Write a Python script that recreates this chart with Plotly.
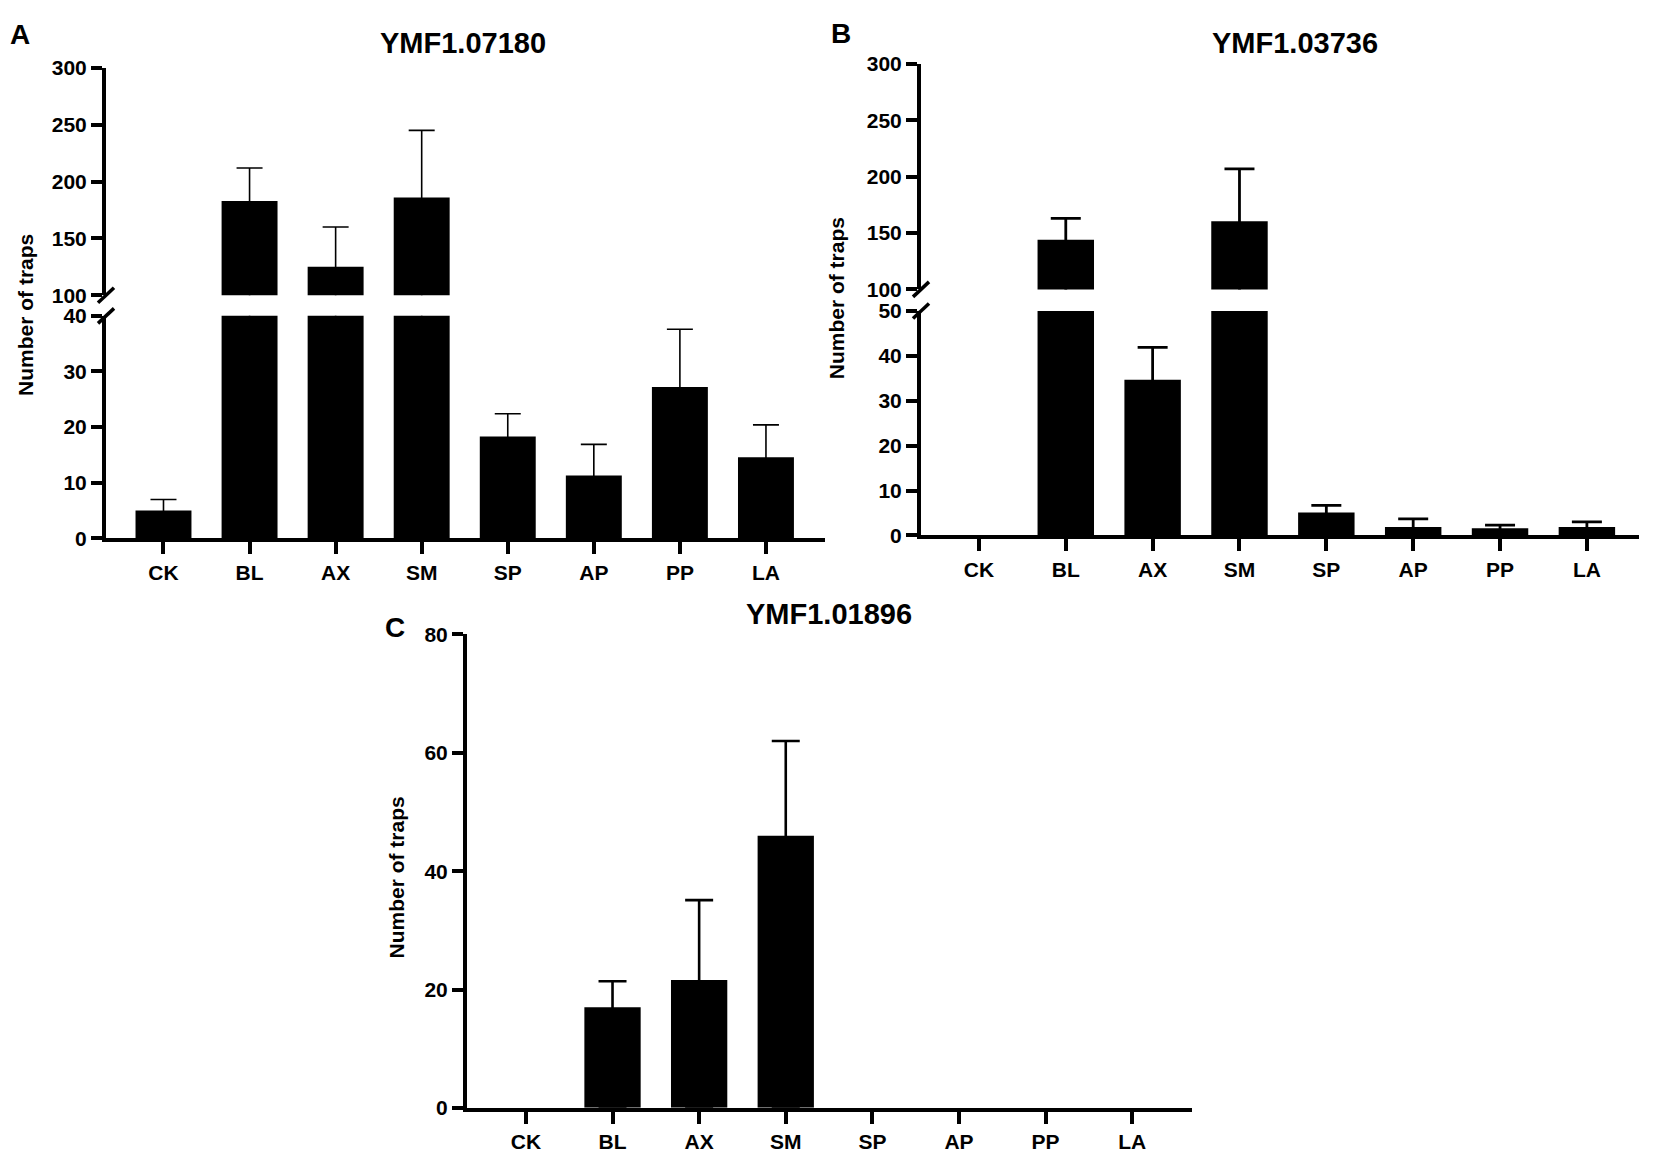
import numpy as np
import plotly.graph_objects as go

# trap counts (mean and upper error)
categories = ["CK", "BL", "AX", "SM", "SP", "AP", "PP", "LA"]

a_title = "YMF1.07180"
a_mean = [5.0, 183, 125, 186, 18.3, 11.3, 27.2, 14.6]
a_err = [2.0, 29, 35, 59, 4.1, 5.6, 10.4, 5.8]

b_title = "YMF1.03736"
b_mean = [0, 144, 34.7, 160.5, 5.1, 1.85, 1.6, 1.85]
b_err = [None, 19, 7.2, 46.5, 1.6, 1.85, 0.7, 1.15]

c_title = "YMF1.01896"
c_mean = [0, 17.0, 21.6, 46.0, 0, 0, 0, 0]
c_err = [None, 4.4, 13.5, 16.0, None, None, None, None]

a_lower_ticks = [0, 10, 20, 30, 40]
b_lower_ticks = [0, 10, 20, 30, 40, 50]
upper_ticks = [100, 150, 200, 250, 300]
c_ticks = [0, 20, 40, 60, 80]

W, H = 1654, 1162
FONT = "Liberation Sans, Arial, sans-serif"


def bar(y, err, xa, ya, thick, capw):
    # NaN (from None) means no error bar; the lower half runs down inside the
    # bar to zero so only the upper whisker is visible
    up = np.array(err, dtype=float)
    down = np.where(np.isnan(up), np.nan, np.array(y, dtype=float))
    return go.Bar(
        x=categories, y=y, xaxis=xa, yaxis=ya,
        marker=dict(color="black", line=dict(width=0)),
        error_y=dict(type="data", symmetric=False, array=up,
                     arrayminus=down, color="black",
                     thickness=thick, width=capw),
        showlegend=False, hoverinfo="x+y",
    )


fig = go.Figure()
fig.add_trace(bar(a_mean, a_err, "x", "y", 1.6, 13))
fig.add_trace(bar(a_mean, a_err, "x", "y2", 1.6, 13))
fig.add_trace(bar(b_mean, b_err, "x2", "y3", 2.8, 15))
fig.add_trace(bar(b_mean, b_err, "x2", "y4", 2.8, 15))
fig.add_trace(bar(c_mean, c_err, "x3", "y5", 2.6, 14))

tickfont = dict(family=FONT, size=21, color="black", weight="bold")
common = dict(showline=True, linewidth=4, linecolor="black", ticks="outside",
              ticklen=11, tickwidth=4, tickcolor="black", showgrid=False,
              zeroline=False, tickfont=tickfont, fixedrange=True)

xcommon = dict(common, type="category", categoryorder="array",
               categoryarray=categories, ticklen=12)

fig.update_layout(
    width=W, height=H,
    margin=dict(l=0, r=0, t=0, b=0),
    paper_bgcolor="white", plot_bgcolor="white",
    barmode="overlay", bargap=0.35,
    xaxis=dict(xcommon, domain=[106 / W, 825 / W], anchor="y", range=[-0.668, 7.686]),
    yaxis=dict(common, domain=[1 - 537 / H, 1 - 310 / H], anchor="x",
               range=[0, 40], tickvals=a_lower_ticks),
    yaxis2=dict(common, domain=[1 - 289 / H, 1 - 57 / H], anchor="x",
                range=[100, 300], tickvals=upper_ticks),
    xaxis2=dict(xcommon, domain=[921 / W, 1639 / W], anchor="y3", range=[-0.667, 7.6]),
    yaxis3=dict(common, domain=[1 - 534 / H, 1 - 305 / H], anchor="x2",
                range=[0, 50], tickvals=b_lower_ticks),
    yaxis4=dict(common, domain=[1 - 283 / H, 1 - 53 / H], anchor="x2",
                range=[100, 300], tickvals=upper_ticks),
    xaxis3=dict(xcommon, domain=[467 / W, 1192 / W], anchor="y5", range=[-0.68, 7.69]),
    yaxis5=dict(common, domain=[1 - 1118 / H, 1 - 635 / H], anchor="x3",
                range=[0, 80], tickvals=c_ticks),
)

# axis break marks
for xr, yr, anchor in [("x", "y2", 0), ("x", "y", 1), ("x2", "y4", 0), ("x2", "y3", 1)]:
    fig.add_shape(type="line", xref=xr + " domain", yref=yr + " domain",
                  xsizemode="pixel", ysizemode="pixel", xanchor=0, yanchor=anchor,
                  x0=-8, x1=8, y0=-7.5, y1=7.5,
                  line=dict(color="black", width=3.5))

# texts
def note(text, x, y, size, angle=0):
    fig.add_annotation(text=text, x=x / W, y=1 - y / H, xref="paper", yref="paper",
                       showarrow=False, textangle=angle, xanchor="center", yanchor="middle",
                       font=dict(family=FONT, size=size, color="black", weight="bold"))

note(a_title, 463, 32, 29)
note(b_title, 1295, 32, 29)
note(c_title, 829, 614, 29)
note("A", 20, 23, 28)
note("B", 841, 22, 28)
note("C", 395, 628, 28)
note("Number of traps", 26, 309, 21, -90)
note("Number of traps", 836, 292, 21, -90)
note("Number of traps", 397, 883, 21, -90)

fig.write_html("out.html", config={"displayModeBar": False},
               post_script="document.body.style.margin='0px';")
